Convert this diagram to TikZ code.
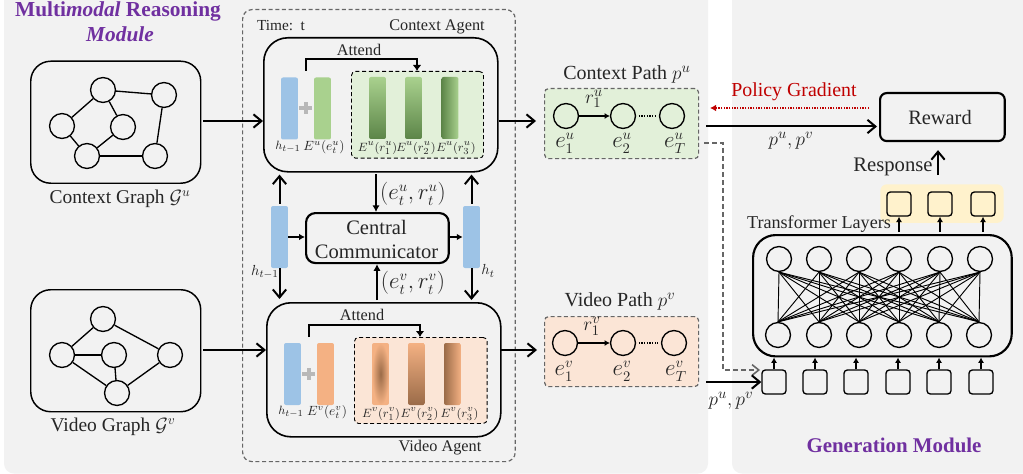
\documentclass[tikz,border=0pt]{standalone}
\usepackage{fontspec}
\setmainfont{Liberation Serif}
\usetikzlibrary{arrows.meta,calc}
\definecolor{pbg}{HTML}{F2F2F2}
\definecolor{txt}{HTML}{262626}
\definecolor{bblue}{HTML}{9DC3E6}
\definecolor{bgreen}{HTML}{A9D18E}
\definecolor{dgreen}{HTML}{5C8548}
\definecolor{borange}{HTML}{F4B183}
\definecolor{dorange}{HTML}{9A6B48}
\definecolor{lgreen}{HTML}{E2F0D9}
\definecolor{lorange}{HTML}{FBE5D6}
\definecolor{lyellow}{HTML}{FFF2CC}
\definecolor{purp}{HTML}{7030A0}
\definecolor{redd}{HTML}{C00000}
\definecolor{dgray}{HTML}{666666}
\newcommand{\fsz}[1]{\fontsize{#1}{#1}\selectfont}
\tikzset{
  x=0.75pt,y=-0.75pt,
  panel/.style={fill=pbg,draw=none,rounded corners=7.5pt},
  box/.style={draw=black,line width=1.2pt,rounded corners=18pt,anchor=north west,inner sep=0,text width=0},
  thickbox/.style={box,line width=1.6pt},
  nodeC/.style={circle,draw=black,line width=1pt,minimum size=18.7pt,inner sep=0},
  sq/.style={draw=black,line width=1pt,rounded corners=2.5pt,minimum size=18pt,inner sep=0},
  bar/.style={rounded corners=1.5pt,minimum width=12.7pt,minimum height=46.5pt,inner sep=0,draw=none},
  dbox/.style={draw=black,line width=0.7pt,dash pattern=on 3pt off 2pt,rounded corners=3pt,anchor=north west,inner sep=0},
  gbox/.style={draw=dgray,line width=0.9pt,dash pattern=on 3pt off 2pt,rounded corners=3pt,anchor=north west,inner sep=0},
  lab/.style={text=txt,inner sep=0,font=\fsz{14.6}},
  smlab/.style={text=txt,inner sep=0,font=\fsz{9.4}},
  arr/.style={line width=1.5pt,-{Straight Barb[length=6pt,width=10pt,line width=1.5pt]}},
  sarr/.style={line width=1pt,-{Latex[length=4pt,width=4.5pt]}},
  parr/.style={line width=0.8pt,-{Latex[length=4pt,width=4.5pt]}},
  edge/.style={line width=1pt},
  attn/.style={line width=1.2pt,-{Latex[length=4.5pt,width=6.5pt]}},
  plus/.style={draw=none,fill=black!28,inner sep=0},
}
\begin{document}
\begin{tikzpicture}
\useasboundingbox (0,0) rectangle (1023,474);
\fill[white] (0,0) rectangle (1023,474);
% panels
\fill[panel] (4,-12) rectangle (708,473.5);
\fill[panel] (732,-12) rectangle (1035,473.5);
% titles
\node[inner sep=0,text=purp,font=\fsz{16}\bfseries] (title1) at (118,11) {Multi\textit{modal} Reasoning};
\node[inner sep=0,text=purp,font=\fsz{16}\bfseries\itshape] (title2) at (120,34) {Module};
\node[inner sep=0,text=purp,font=\fsz{15.7}\bfseries] (title3) at (894,445) {Generation Module};
% outer dashed
\node[gbox,minimum width=204.5pt,minimum height=339pt,rounded corners=7pt] (outer) at (242,9) {};
\node[lab,font=\fsz{11.5}] (time) at (281,26) {Time:\, t};
\node[lab,font=\fsz{12.2}] (ctxag) at (437,27) {Context Agent};
\node[lab,font=\fsz{12.2}] (vidag) at (440,448) {Video Agent};

% graph boxes
\node[box,minimum width=127.5pt,minimum height=91.5pt,line width=1.1pt,rounded corners=15pt] (cg) at (30,60.5) {};
\node[box,minimum width=127.5pt,minimum height=91.5pt,line width=1.1pt,rounded corners=15pt] (vg) at (30,289) {};
\node[lab] (cgl) at (120,199) {Context Graph $\mathcal{G}^{u}$};
\node[lab] (vgl) at (113,427) {Video Graph $\mathcal{G}^{v}$};
% context graph
\node[nodeC] (c1) at (103,90) {};
\node[nodeC] (c2) at (164,95) {};
\node[nodeC] (c3) at (62,126) {};
\node[nodeC] (c4) at (123,127) {};
\node[nodeC] (c5) at (87,156) {};
\node[nodeC] (c6) at (155,156) {};
\foreach \a/\b in {c1/c2,c1/c3,c1/c4,c2/c6,c3/c5,c4/c5,c5/c6} \draw[edge] (\a) -- (\b);
% video graph
\node[nodeC] (v1) at (103,319) {};
\node[nodeC] (v2) at (62,355) {};
\node[nodeC] (v3) at (114,355) {};
\node[nodeC] (v4) at (170,355) {};
\node[nodeC] (v5) at (117,393) {};
\foreach \a/\b in {v1/v2,v1/v4,v2/v3,v3/v5,v2/v5,v4/v5} \draw[edge] (\a) -- (\b);

% agents
\node[box,minimum width=175.5pt,minimum height=100.5pt] (ca) at (263,37) {};
\node[box,minimum width=175.5pt,minimum height=100.5pt] (va) at (266,302) {};
\node[thickbox,minimum width=107pt,minimum height=37.5pt,rounded corners=7pt] (cc) at (305,212) {};
\node[lab,font=\fsz{15.4},align=center] (cct) at (376.5,239.5) {Central\\[3pt]Communicator};

% context agent contents
\node[dbox,fill=lgreen,minimum width=99pt,minimum height=65pt] (cd) at (351,71) {};
\node[bar,fill=bblue] (cb1) at (289.5,108.5) {};
\node[bar,fill=bgreen] (cb2) at (322.5,108.5) {};
\node[bar,top color=bgreen,bottom color=dgreen] (cb3) at (377.5,108) {};
\node[bar,top color=bgreen,bottom color=dgreen] (cb4) at (413.5,108) {};
\node[bar,left color=dgreen,right color=bgreen] (cb5) at (450,108) {};
\node[plus,minimum width=9.5pt,minimum height=3pt] (cp) at (305.5,108) {};
\node[plus,minimum width=3pt,minimum height=9.5pt] (cp2) at (305.5,108) {};
\node[smlab] (cl1) at (288,147) {$h_{t-1}$};
\node[smlab,font=\fsz{9.8}] (cl2) at (324,147) {$E^{u}(e_t^{u})$};
\node[smlab] (cl3) at (377.5,148) {$E^{u}(r_1^{u})$};
\node[smlab] (cl4) at (416,148) {$E^{u}(r_2^{u})$};
\node[smlab] (cl5) at (456,148) {$E^{u}(r_3^{u})$};
\node[lab,font=\fsz{12.2}] (cat) at (359,50) {Attend};
\coordinate (cas) at (306,71);
\draw[attn] (cas) -- (306,59) -| (cd.north west -| 417,71);

% video agent contents
\node[dbox,fill=lorange,minimum width=99.5pt,minimum height=64.5pt] (vd) at (354,337) {};
\node[bar,fill=bblue] (vb1) at (292.5,374) {};
\node[bar,fill=borange] (vb2) at (325.5,374) {};
\node[bar,inner color=dorange,outer color=borange] (vb3) at (380.5,374) {};
\node[bar,top color=borange,bottom color=dorange] (vb4) at (416.5,374) {};
\node[bar,left color=dorange,right color=borange] (vb5) at (452.5,374) {};
\node[plus,minimum width=9.5pt,minimum height=3pt] (vp) at (308.5,374) {};
\node[plus,minimum width=3pt,minimum height=9.5pt] (vp2) at (308.5,374) {};
\node[smlab] (vl1) at (291,412) {$h_{t-1}$};
\node[smlab,font=\fsz{9.8}] (vl2) at (327,412) {$E^{v}(e_t^{v})$};
\node[smlab] (vl3) at (381,414) {$E^{v}(r_1^{v})$};
\node[smlab] (vl4) at (419.5,414) {$E^{v}(r_2^{v})$};
\node[smlab] (vl5) at (459.5,414) {$E^{v}(r_3^{v})$};
\node[lab,font=\fsz{12.2}] (vat) at (362,315) {Attend};
\coordinate (vas) at (309,337);
\draw[attn] (vas) -- (309,325) -| (vd.north west -| 420,337);

% side bars
\node[bar,fill=bblue] (hl) at (279.5,237) {};
\node[bar,fill=bblue] (hr) at (471.5,237) {};
\node[lab,font=\fsz{11}] (hll) at (265,272) {$h_{t-1}$};
\node[lab,font=\fsz{11}] (hrl) at (488,271) {$h_t$};
\draw[arr] (hl.north) ++(0,-2) coordinate (hlu) -- ($(hlu |- ca.south)+(0,2)$);
\draw[arr] (hr.north) ++(0,-2) coordinate (hru) -- ($(hru |- ca.south)+(0,2)$);
\draw[arr] (hl.south) -- ($(hl.south |- va.north)+(0,-3)$);
\draw[arr] (hr.south) -- ($(hr.south |- va.north)+(0,-2)$);
\draw[line width=1.5pt,-{Latex[length=4.5pt,width=5pt]}] (hl.east) -- (cc.west |- hl.east);
\draw[line width=1.5pt,-{Latex[length=4.5pt,width=5pt]}] (cc.east |- hr.west) -- (hr.west);
\coordinate (cdt) at (376,174);
\coordinate (vut) at (377,300);
\draw[line width=1.3pt,-{Latex[length=5pt,width=5.5pt]}] (cdt) -- (cdt |- cc.north);
\draw[line width=1.3pt,-{Latex[length=5pt,width=5.5pt]}] (vut) -- (vut |- cc.south);
\node[lab,font=\fsz{16.3}] (ml1) at (413,194) {$(e_t^{u},r_t^{u})$};
\node[lab,font=\fsz{16.3}] (ml2) at (413,283) {$(e_t^{v},r_t^{v})$};

% graph to agent
\coordinate (cgs) at (203,121);
\coordinate (vgs) at (203,350);
\draw[arr] (cgs) -- (cgs -| ca.west);
\draw[arr] (vgs) -- (vgs -| va.west);

% paths
\node[lab,font=\fsz{15}] (cpt) at (627,74) {Context Path $p^{u}$};
\node[lab,font=\fsz{15}] (vpt) at (620,301) {Video Path $p^{v}$};
\node[gbox,fill=lgreen,minimum width=115.5pt,minimum height=52.5pt] (cpb) at (544,88) {};
\node[gbox,fill=lorange,minimum width=115.5pt,minimum height=52.5pt] (vpb) at (544,316) {};
\coordinate (cao) at (499,121);
\coordinate (vao) at (501,350);
\draw[arr] (cao) -- ($(cao -| cpb.west)+(-8,0)$);
\draw[arr] (vao) -- ($(vao -| vpb.west)+(-7,0)$);

\node[nodeC] (ce1) at (566,116) {};
\node[nodeC] (ce2) at (623,116) {};
\node[nodeC] (ce3) at (672,116) {};
\node[nodeC] (ve1) at (565,343) {};
\node[nodeC] (ve2) at (623,343) {};
\node[nodeC] (ve3) at (674,343) {};
\draw[parr] (ce1) -- (ce2);
\draw[parr] (ve1) -- (ve2);
\draw[line width=0.9pt,dash pattern=on 1pt off 1pt,shorten >=2pt,shorten <=2pt] (ce2) -- (ce3);
\draw[line width=0.9pt,dash pattern=on 1pt off 1pt,shorten >=2pt,shorten <=2pt] (ve2) -- (ve3);
\node[lab,font=\fsz{15.5}] (crl) at (594,99) {$r_1^{u}$};
\node[lab,font=\fsz{15.5}] (vrl) at (592,326) {$r_1^{v}$};
\node[lab,font=\fsz{16}] (cel1) at (565,143) {$e_1^{u}$};
\node[lab,font=\fsz{16}] (cel2) at (622,143) {$e_2^{u}$};
\node[lab,font=\fsz{16}] (cel3) at (675,143) {$e_T^{u}$};
\node[lab,font=\fsz{16}] (vel1) at (564,371) {$e_1^{v}$};
\node[lab,font=\fsz{16}] (vel2) at (622,371) {$e_2^{v}$};
\node[lab,font=\fsz{16}] (vel3) at (676,371) {$e_T^{v}$};

% reward
\node[thickbox,minimum width=93.5pt,minimum height=36pt,rounded corners=5pt] (rw) at (879,92) {};
\node[lab,font=\fsz{15.3}] (rwt) at (940,118) {Reward};
\node[lab,text=redd,font=\fsz{14.9}] (pg) at (794,92) {Policy Gradient};
\coordinate (rgs) at (869,108);
\coordinate (rge) at (710,108);
\draw[redd,line width=1pt,dash pattern=on 1pt off 1pt,-{Latex[length=4.5pt,width=5pt]}] (rgs) -- (rge);
\coordinate (po) at (706,126.5);
\draw[arr] (po) -- ($(po -| rw.west)+(-2,0)$);
\node[lab,font=\fsz{15.5}] (pl1) at (791,141) {$p^{u},p^{v}$};
\node[lab,font=\fsz{15.5}] (resp) at (893,167) {Response};
\coordinate (rsp) at (938,175);
\draw[arr] (rsp) -- ($(rsp |- rw.south)+(0,8)$);

% transformer
\node[fill=lyellow,rounded corners=5pt,minimum width=92.5pt,minimum height=29pt,inner sep=0,anchor=north west] (yb) at (880,184) {};
\node[thickbox,minimum width=194pt,minimum height=91pt,rounded corners=17pt] (tb) at (752,234) {};
\node[lab,font=\fsz{13.6}] (tl) at (819,224) {Transformer Layers};
\foreach \i/\x in {1/779,2/819,3/859,4/899,5/940,6/980} \node[nodeC] (t\i) at (\x,259) {};
\foreach \i/\x in {1/778,2/819,3/859,4/899,5/939,6/979} \node[nodeC] (b\i) at (\x,335) {};
\foreach \i in {1,...,6} \foreach \j in {1,...,6} \draw[line width=0.7pt] (t\i.south) -- (b\j.north);
\foreach \i/\x in {1/774,2/815,3/856,4/898,5/939,6/981} {
  \node[sq] (s\i) at (\x,382) {};
  \draw[sarr] (s\i.north) -- (s\i.north |- tb.south);
}
\foreach \i/\x in {1/899,2/940,3/983} {
  \node[sq] (y\i) at (\x,204) {};
  \draw[sarr] (y\i.south |- tb.north) ++(0,-2) coordinate (ya\i) -- (y\i.south);
}
\coordinate (ds) at (704,143);
\coordinate (dc) at (723,143);
\coordinate (de) at (723,370);
\draw[dgray,line width=1.2pt,dash pattern=on 4pt off 2pt,-{Straight Barb[length=5pt,width=8pt,line width=1.2pt]}] (ds) -- (dc) -- (de) -- (760,370);
\coordinate (ps) at (706,382);
\draw[arr] (ps) -- (s1.west);
\node[lab,font=\fsz{15.5}] (pl2) at (731,401) {$p^{u},p^{v}$};
\end{tikzpicture}
\end{document}
